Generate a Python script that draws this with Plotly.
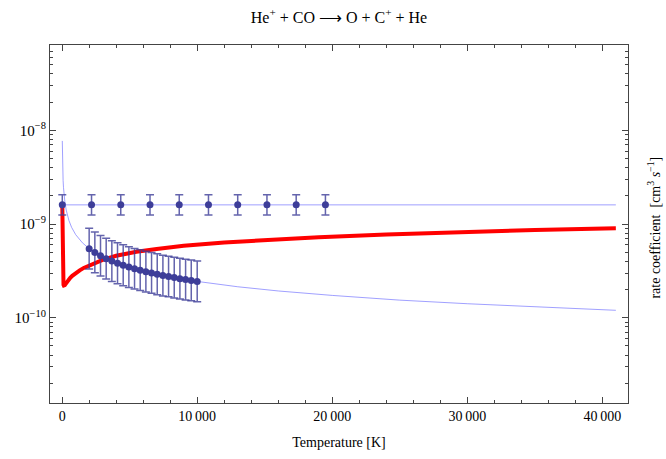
import plotly.graph_objects as go

# --- data ---------------------------------------------------------------
# fitted rate curve, power-law decline
fit_T = [10, 20, 40, 70, 100, 150, 200, 300, 500, 700, 1000, 1500, 2000, 3000,
         4000, 5000, 6000, 8000, 10000, 13000, 16000, 20000, 25000, 30000, 35000, 41000]
fit_k = [7.7e-9, 5.46e-9, 3.86e-9, 2.92e-9, 2.44e-9, 1.99e-9, 1.73e-9, 1.41e-9, 1.09e-9,
         9.2e-10, 7.7e-10, 6.3e-10, 5.46e-10, 4.45e-10, 3.86e-10, 3.45e-10, 3.15e-10,
         2.73e-10, 2.44e-10, 2.14e-10, 1.93e-10, 1.73e-10, 1.54e-10, 1.41e-10, 1.30e-10, 1.2e-10]

# constant rate line
const_T = [10, 41000]
const_k = [1.6e-9, 1.6e-9]

# computed rate coefficient (red)
calc_T = [10, 13, 16, 20, 25, 30, 38, 45, 55, 70, 85, 100, 125, 150, 200, 250, 300, 400,
          500, 600, 750, 900, 1100, 1300, 1600, 2000, 2500, 3000, 4000, 5500, 7000, 9000,
          12000, 15000, 19000, 24000, 29000, 35000, 41000]
calc_k = [1.6e-9, 1.25e-9, 1.0e-9, 7.8e-10, 6.0e-10, 4.8e-10, 3.8e-10, 3.2e-10, 2.8e-10,
          2.5e-10, 2.33e-10, 2.25e-10, 2.21e-10, 2.2e-10, 2.23e-10, 2.28e-10, 2.34e-10,
          2.45e-10, 2.56e-10, 2.66e-10, 2.8e-10, 2.92e-10, 3.06e-10, 3.2e-10, 3.4e-10,
          3.62e-10, 3.88e-10, 4.15e-10, 4.58e-10, 5.05e-10, 5.42e-10, 5.85e-10, 6.35e-10,
          6.77e-10, 7.23e-10, 7.74e-10, 8.17e-10, 8.61e-10, 9.0e-10]

# tabulated constant-rate points with uncertainties
tab1_T = [10, 2175, 4340, 6505, 8670, 10835, 13000, 15165, 17330, 19495]
tab1_k = [1.6e-9] * 10
tab1_hi = [2.05e-9] * 10
tab1_lo = [1.25e-9] * 10

# tabulated temperature-dependent points with uncertainties
tab2_T = [2000, 2420, 2840, 3260, 3680, 4100, 4520, 4940, 5360, 5780,
          6200, 6620, 7040, 7460, 7880, 8300, 8720, 9140, 9560, 10000]
tab2_k = [5.46e-10, 4.96e-10, 4.58e-10, 4.27e-10, 4.02e-10, 3.81e-10, 3.63e-10, 3.47e-10,
          3.33e-10, 3.21e-10, 3.10e-10, 3.00e-10, 2.91e-10, 2.82e-10, 2.75e-10, 2.68e-10,
          2.61e-10, 2.55e-10, 2.50e-10, 2.44e-10]
tab2_hi = [9.0e-10, 8.2e-10, 7.55e-10, 7.05e-10, 6.63e-10, 6.29e-10, 5.99e-10, 5.73e-10,
           5.49e-10, 5.30e-10, 5.12e-10, 4.95e-10, 4.80e-10, 4.65e-10, 4.54e-10, 4.42e-10,
           4.31e-10, 4.21e-10, 4.13e-10, 4.03e-10]
tab2_lo = [3.31e-10, 3.01e-10, 2.78e-10, 2.59e-10, 2.44e-10, 2.31e-10, 2.20e-10, 2.10e-10,
           2.02e-10, 1.95e-10, 1.88e-10, 1.82e-10, 1.76e-10, 1.71e-10, 1.67e-10, 1.62e-10,
           1.58e-10, 1.55e-10, 1.52e-10, 1.48e-10]

x_ticks = [0, 10000, 20000, 30000, 40000]
x_labels = ["0", "10\u2009000", "20\u2009000", "30\u2009000", "40\u2009000"]
y_ticks = [1e-10, 1e-9, 1e-8]
y_labels = ["10<sup>\u221210</sup>", "10<sup>\u22129</sup>", "10<sup>\u22128</sup>"]

# --- styling ------------------------------------------------------------
FONT = "Liberation Serif, Times New Roman, serif"
THIN = "rgba(120,120,255,0.7)"
DOT = "#3d3d99"
BAR = "rgba(61,61,153,0.8)"
FRAME = "#444444"


def errs(vals, hi, lo):
    return [h - v for h, v in zip(hi, vals)], [v - l for v, l in zip(vals, lo)]


fig = go.Figure()

fig.add_trace(go.Scatter(x=fit_T, y=fit_k, mode="lines",
                         line=dict(color=THIN, width=1), hoverinfo="skip"))
fig.add_trace(go.Scatter(x=const_T, y=const_k, mode="lines",
                         line=dict(color=THIN, width=1), hoverinfo="skip"))
fig.add_trace(go.Scatter(x=calc_T, y=calc_k, mode="lines",
                         line=dict(color="#ff0000", width=4)))

for T, k, hi, lo in [(tab1_T, tab1_k, tab1_hi, tab1_lo), (tab2_T, tab2_k, tab2_hi, tab2_lo)]:
    up, dn = errs(k, hi, lo)
    fig.add_trace(go.Scatter(
        x=T, y=k, mode="markers",
        marker=dict(color=DOT, size=7),
        error_y=dict(type="data", symmetric=False, array=up, arrayminus=dn,
                     color=BAR, thickness=1.5, width=4),
    ))

minor_y = [m * 10.0 ** e for e in (-11, -10, -9, -8) for m in range(2, 10)]

fig.update_layout(
    width=666, height=459,
    margin=dict(l=50, r=38, t=45, b=56),
    paper_bgcolor="white", plot_bgcolor="white",
    showlegend=False,
    font=dict(family=FONT, size=14, color="black"),
    title=dict(text="He<sup>+</sup> + CO \u27f6 O + C<sup>+</sup> + He",
               x=0.509, xanchor="center", y=0.963, yanchor="middle",
               font=dict(family=FONT, size=16, color="black")),
    xaxis=dict(
        range=[-900, 41900], showgrid=False, zeroline=False,
        showline=True, linecolor=FRAME, linewidth=1, mirror="allticks",
        ticks="inside", ticklen=6, tickcolor=FRAME,
        tickvals=x_ticks, ticktext=x_labels,
        tickfont=dict(family=FONT, size=14),
        minor=dict(tick0=0, dtick=2000, ticks="inside", ticklen=3, tickcolor=FRAME),
        title=dict(text="Temperature [K]", standoff=14, font=dict(family=FONT, size=14)),
    ),
    yaxis=dict(
        type="log", range=[-10.91, -7.09], showgrid=False, zeroline=False,
        showline=True, linecolor=FRAME, linewidth=1, mirror="allticks",
        ticks="inside", ticklen=6, tickcolor=FRAME,
        tickvals=y_ticks, ticktext=y_labels,
        tickfont=dict(family=FONT, size=15),
        minor=dict(tickvals=minor_y, ticks="inside", ticklen=3, tickcolor=FRAME),
    ),
    annotations=[dict(
        text="rate coefficient  [cm<sup>3</sup> <i>s</i><sup>\u22121</sup>]",
        xref="paper", yref="paper", x=1.0, xshift=26, y=0.49,
        xanchor="center", yanchor="middle", textangle=-90, showarrow=False,
        font=dict(family=FONT, size=14, color="black"),
    )],
)

fig.write_html("out.html")
